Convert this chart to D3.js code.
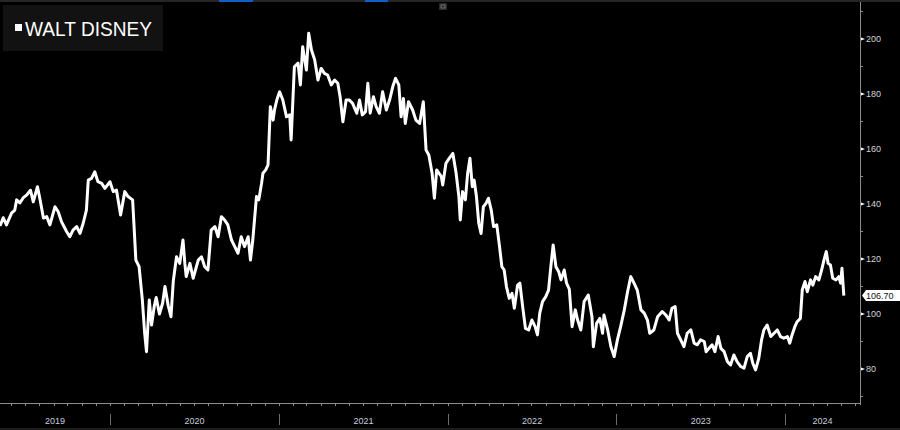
<!DOCTYPE html>
<html>
<head>
<meta charset="utf-8">
<script src="https://cdn.jsdelivr.net/npm/d3@7"></script>
<style>
  html, body { margin: 0; padding: 0; background: #000; }
  svg { display: block; }
</style>
</head>
<body>
<svg></svg>
<script>
let width = 900
let height = 430
let plotRight = 860
let axisY = 403

let seriesName = 'WALT DISNEY'
let lastLabel = '106.70'

let dates = [
    '2019-05-08', '2019-05-15', '2019-05-22', '2019-06-02', '2019-06-09', '2019-06-13', '2019-06-20', '2019-06-27',
    '2019-07-05', '2019-07-13', '2019-07-19', '2019-07-28', '2019-08-02', '2019-08-10', '2019-08-17', '2019-08-24',
    '2019-09-04', '2019-09-11', '2019-09-18', '2019-09-29', '2019-10-06', '2019-10-13', '2019-10-21', '2019-10-28',
    '2019-11-04', '2019-11-11', '2019-11-15', '2019-11-22', '2019-11-29', '2019-12-06', '2019-12-14', '2019-12-21',
    '2020-01-01', '2020-01-08', '2020-01-15', '2020-01-24', '2020-02-02', '2020-02-09', '2020-02-19', '2020-02-26',
    '2020-03-04', '2020-03-11', '2020-03-16', '2020-03-20', '2020-03-26', '2020-03-31', '2020-04-06', '2020-04-10',
    '2020-04-17', '2020-04-24', '2020-04-29', '2020-05-06', '2020-05-12', '2020-05-17', '2020-05-24', '2020-05-31',
    '2020-06-07', '2020-06-11', '2020-06-14', '2020-06-22', '2020-06-29', '2020-07-10', '2020-07-17', '2020-07-24',
    '2020-07-31', '2020-08-07', '2020-08-15', '2020-08-22', '2020-08-29', '2020-09-05', '2020-09-12', '2020-09-20',
    '2020-09-27', '2020-10-04', '2020-10-11', '2020-10-18', '2020-10-26', '2020-10-31', '2020-11-05', '2020-11-13',
    '2020-11-18', '2020-11-24', '2020-11-27', '2020-12-03', '2020-12-08', '2020-12-13', '2020-12-19', '2020-12-22',
    '2020-12-27', '2021-01-02', '2021-01-09', '2021-01-17', '2021-01-24', '2021-01-27', '2021-02-03', '2021-02-11',
    '2021-02-16', '2021-02-21', '2021-03-01', '2021-03-06', '2021-03-12', '2021-03-19', '2021-03-26', '2021-04-02',
    '2021-04-09', '2021-04-16', '2021-04-24', '2021-05-01', '2021-05-08', '2021-05-13', '2021-05-19', '2021-05-26',
    '2021-06-02', '2021-06-09', '2021-06-18', '2021-06-24', '2021-06-30', '2021-07-07', '2021-07-12', '2021-07-17',
    '2021-07-24', '2021-07-30', '2021-08-06', '2021-08-13', '2021-08-21', '2021-08-28', '2021-09-04', '2021-09-10',
    '2021-09-17', '2021-09-22', '2021-09-27', '2021-10-01', '2021-10-08', '2021-10-17', '2021-10-24', '2021-11-01',
    '2021-11-09', '2021-11-15', '2021-11-21', '2021-11-28', '2021-12-03', '2021-12-08', '2021-12-18', '2021-12-21',
    '2021-12-28', '2022-01-04', '2022-01-12', '2022-01-19', '2022-01-25', '2022-01-28', '2022-02-02', '2022-02-08',
    '2022-02-13', '2022-02-18', '2022-02-23', '2022-02-27', '2022-03-04', '2022-03-09', '2022-03-14', '2022-03-19',
    '2022-03-25', '2022-03-30', '2022-04-05', '2022-04-10', '2022-04-17', '2022-04-23', '2022-04-28', '2022-05-03',
    '2022-05-08', '2022-05-14', '2022-05-20', '2022-05-25', '2022-06-01', '2022-06-06', '2022-06-12', '2022-06-18',
    '2022-06-25', '2022-07-02', '2022-07-09', '2022-07-14', '2022-07-19', '2022-07-25', '2022-08-01', '2022-08-07',
    '2022-08-12', '2022-08-17', '2022-08-23', '2022-08-29', '2022-09-03', '2022-09-10', '2022-09-15', '2022-09-21',
    '2022-09-27', '2022-10-04', '2022-10-09', '2022-10-16', '2022-10-23', '2022-11-01', '2022-11-09', '2022-11-12',
    '2022-11-19', '2022-11-26', '2022-12-02', '2022-12-05', '2022-12-13', '2022-12-20', '2022-12-27', '2023-01-03',
    '2023-01-10', '2023-01-18', '2023-01-25', '2023-02-01', '2023-02-08', '2023-02-15', '2023-02-23', '2023-03-02',
    '2023-03-09', '2023-03-14', '2023-03-23', '2023-03-31', '2023-04-10', '2023-04-18', '2023-04-25', '2023-05-01',
    '2023-05-08', '2023-05-13', '2023-05-20', '2023-05-27', '2023-06-03', '2023-06-11', '2023-06-18', '2023-06-25',
    '2023-07-02', '2023-07-10', '2023-07-14', '2023-07-20', '2023-07-27', '2023-08-02', '2023-08-09', '2023-08-15',
    '2023-08-22', '2023-08-29', '2023-09-05', '2023-09-12', '2023-09-19', '2023-09-27', '2023-10-04', '2023-10-11',
    '2023-10-18', '2023-10-23', '2023-10-29', '2023-11-05', '2023-11-11', '2023-11-16', '2023-11-23', '2023-12-01',
    '2023-12-08', '2023-12-15', '2023-12-22', '2023-12-29', '2024-01-06', '2024-01-11', '2024-01-16', '2024-01-22',
    '2024-01-27', '2024-02-03', '2024-02-07', '2024-02-13', '2024-02-18', '2024-02-25', '2024-03-01', '2024-03-07',
    '2024-03-14', '2024-03-20', '2024-03-25', '2024-03-30', '2024-04-03', '2024-04-08', '2024-04-13', '2024-04-20',
    '2024-04-26', '2024-04-30', '2024-05-03', '2024-05-07'
]

let closes = [
    132, 135, 132.4, 136.7, 137.8, 141.5, 140.4, 142.2,
    143.3, 145, 140.8, 146.3, 142.2, 134.9, 135.4, 132.4,
    139, 137.2, 133.6, 130, 128.1, 130.5, 131.8, 129.3,
    133, 137.8, 148.7, 149.3, 151.7, 148.1, 147.5, 145.7,
    148.1, 144.5, 145.1, 136, 144.5, 142.7, 141.5, 119.6,
    117.2, 105.1, 93.1, 86.3, 105.1, 96, 103, 106,
    100, 104, 110, 103, 99, 112, 120.8, 118.4,
    126.9, 118.4, 113.6, 118.4, 113, 119.6, 120.8, 117.2,
    116, 130.5, 131.8, 128.1, 135.4, 134.2, 132.4, 126.9,
    124.5, 122.1, 128.1, 124.5, 128.1, 119.6, 126.9, 142.7,
    141.5, 147.5, 151.2, 152.4, 154.2, 175.4, 170.5, 174.2,
    177.8, 180.8, 177.8, 171.7, 172.4, 163.3, 189.9, 191.2,
    183.3, 197.2, 188.7, 202.1, 196, 192.4, 185.1, 189.3,
    187.5, 186.9, 183.3, 185.1, 183.9, 179, 169.9, 177.8,
    177.8, 176.6, 173, 177.8, 172.4, 173.6, 183.9, 173,
    179, 175.4, 173, 180.8, 174.2, 177.8, 182.7, 185.7,
    183.3, 171.7, 178.4, 169.3, 177.2, 174.2, 170.5, 169.3,
    177.2, 159.6, 157.8, 151.2, 142.1, 152.4, 150, 146.9,
    154.8, 156.6, 158.4, 151.2, 142.7, 134.2, 144.5, 141.5,
    151.2, 156.6, 146.3, 148.7, 142.7, 133, 129.3, 139,
    140.3, 142.1, 137.8, 131.8, 132.4, 124.5, 117.2, 116,
    109.9, 105.7, 107.5, 102.1, 110.5, 111.2, 102.7, 94.8,
    94.2, 97.8, 95.4, 92.4, 100.3, 104.5, 106.3, 108.7,
    117.2, 125.1, 117.2, 115.4, 112.4, 116, 111.2, 109,
    95.4, 101.5, 97.8, 94.2, 104.5, 106.9, 99, 88.1,
    96.6, 98.4, 93, 99.6, 94.2, 88.1, 84.5, 90.6,
    95.4, 101.5, 108.1, 113.6, 111.2, 108.7, 101.5, 100.3,
    97.8, 93, 94.2, 99, 100.9, 99.6, 97.8, 102.1,
    102.7, 93, 90.6, 88.1, 93, 94.2, 89.4, 88.8,
    90.6, 90, 86.3, 87.5, 88.8, 86.3, 91.8, 87.5,
    86.3, 82.7, 81.5, 85.1, 82.7, 80.9, 80.3, 84.5,
    85.7, 82.1, 79.7, 83.9, 90.6, 94.2, 96, 91.8,
    93, 94.2, 91.8, 91.2, 91.8, 89.4, 92.4, 95.4,
    97.2, 98.4, 108.7, 111.8, 108.1, 112.4, 110.5, 113.6,
    112.4, 116, 119.6, 122.7, 118.4, 117.8, 113, 112.4,
    113.6, 111.2, 116.6, 106.7
]

let priceTicks = [80, 100, 120, 140, 160, 180, 200]
let minorPriceTicks = [70, 90, 110, 130, 150, 170, 190, 210]
let years = [2019, 2020, 2021, 2022, 2023, 2024]
let viewStart = '2019-05-08'
let viewEnd = '2024-06-11'

let parse = d3.utcParse('%Y-%m-%d')
let data = dates.map((d, i) => ({ date: parse(d), value: closes[i] }))

let svg = d3.select('svg')
    .attr('width', width)
    .attr('height', height)
    .style('font-family', '"Liberation Sans", Arial, sans-serif')

svg.append('rect')
    .attr('width', width)
    .attr('height', height)
    .attr('fill', '#000')

let x = d3.scaleTime()
    .domain([parse(viewStart), parse(viewEnd)])
    .range([0, plotRight])
let y = d3.scaleLinear()
    .domain([80, 200])
    .range([369, 39])

// window chrome along the top edge
svg.append('rect').attr('x', 0).attr('y', 0).attr('width', width).attr('height', 2).attr('fill', '#262626')
svg.append('rect').attr('x', 219).attr('y', 0).attr('width', 34).attr('height', 2).attr('fill', '#0f5fc8')
svg.append('rect').attr('x', 365).attr('y', 0).attr('width', 23).attr('height', 2).attr('fill', '#0f5fc8')
svg.append('rect').attr('x', 439).attr('y', 3).attr('width', 8).attr('height', 7).attr('fill', '#2a2a2a')
svg.append('rect').attr('x', 441).attr('y', 5).attr('width', 4).attr('height', 3)
    .attr('fill', 'none').attr('stroke', '#888').attr('stroke-width', 0.7)

// price line
let line = d3.line()
    .x(d => x(d.date))
    .y(d => y(d.value))
svg.append('path')
    .datum(data)
    .attr('fill', 'none')
    .attr('stroke', '#fff')
    .attr('stroke-width', 3)
    .attr('stroke-linejoin', 'round')
    .attr('d', line)

// right price axis
let axisGroup = svg.append('g')
axisGroup.append('line')
    .attr('x1', plotRight + 0.5).attr('x2', plotRight + 0.5)
    .attr('y1', 2).attr('y2', axisY + 2)
    .attr('stroke', '#8c8c8c')
axisGroup.selectAll('.minor')
    .data(minorPriceTicks).enter()
    .append('line')
    .attr('x1', plotRight).attr('x2', plotRight + 3)
    .attr('y1', d => y(d)).attr('y2', d => y(d))
    .attr('stroke', '#8c8c8c')
axisGroup.selectAll('.major')
    .data(priceTicks).enter()
    .append('path')
    .attr('d', d => `M${plotRight + 1},${y(d) - 1.5} L${plotRight + 5},${y(d)} L${plotRight + 1},${y(d) + 1.5} Z`)
    .attr('fill', '#fff')
axisGroup.selectAll('text')
    .data(priceTicks).enter()
    .append('text')
    .attr('x', plotRight + 6)
    .attr('y', d => y(d))
    .attr('dy', '0.35em')
    .attr('font-size', 9)
    .attr('fill', '#d4d4d4')
    .text(d => d)

// last value marker
let last = data[data.length - 1]
let ly = y(last.value)
svg.append('path')
    .attr('d', `M${plotRight + 2},${ly} L${plotRight + 6},${ly - 5.5} L${width},${ly - 5.5} L${width},${ly + 5.5} L${plotRight + 6},${ly + 5.5} Z`)
    .attr('fill', '#fff')
svg.append('text')
    .attr('x', plotRight + 6)
    .attr('y', ly)
    .attr('dy', '0.35em')
    .attr('font-size', 9)
    .attr('fill', '#111')
    .text(lastLabel)

// bottom time axis
svg.append('line')
    .attr('x1', 0).attr('x2', plotRight + 1)
    .attr('y1', axisY + 0.5).attr('y2', axisY + 0.5)
    .attr('stroke', '#8c8c8c')
svg.selectAll('.month')
    .data(d3.utcMonth.range(x.domain()[0], x.domain()[1])).enter()
    .append('line')
    .attr('x1', d => Math.round(x(d)) + 0.5).attr('x2', d => Math.round(x(d)) + 0.5)
    .attr('y1', axisY).attr('y2', axisY + 3)
    .attr('stroke', '#8c8c8c')

let bands = years.map(yr => {
    let x0 = Math.max(0, x(Date.UTC(yr, 0, 1)))
    let x1 = Math.min(plotRight, x(Date.UTC(yr + 1, 0, 1)))
    return { year: yr, x0: x0, x1: x1 }
})
svg.selectAll('.sep')
    .data(bands.filter(b => b.x0 > 0)).enter()
    .append('line')
    .attr('x1', d => Math.round(d.x0) + 0.5).attr('x2', d => Math.round(d.x0) + 0.5)
    .attr('y1', 414).attr('y2', 425)
    .attr('stroke', '#6e6e6e')
svg.selectAll('.year')
    .data(bands).enter()
    .append('text')
    .attr('x', d => (d.x0 + d.x1) / 2)
    .attr('y', 424)
    .attr('text-anchor', 'middle')
    .attr('font-size', 9)
    .attr('fill', '#c6cedb')
    .text(d => d.year)

svg.append('rect').attr('x', 0).attr('y', 428).attr('width', width).attr('height', 2).attr('fill', '#1c1c1c')

// legend
let legend = svg.append('g')
legend.append('rect')
    .attr('x', 3).attr('y', 5)
    .attr('width', 160).attr('height', 46)
    .attr('fill', '#121212')
legend.append('rect')
    .attr('x', 15).attr('y', 24)
    .attr('width', 7).attr('height', 7)
    .attr('fill', '#fff')
legend.append('text')
    .attr('x', 25).attr('y', 36)
    .attr('font-size', 21)
    .attr('fill', '#fff')
    .attr('textLength', 127)
    .attr('lengthAdjust', 'spacingAndGlyphs')
    .text(seriesName)
</script>
</body>
</html>
